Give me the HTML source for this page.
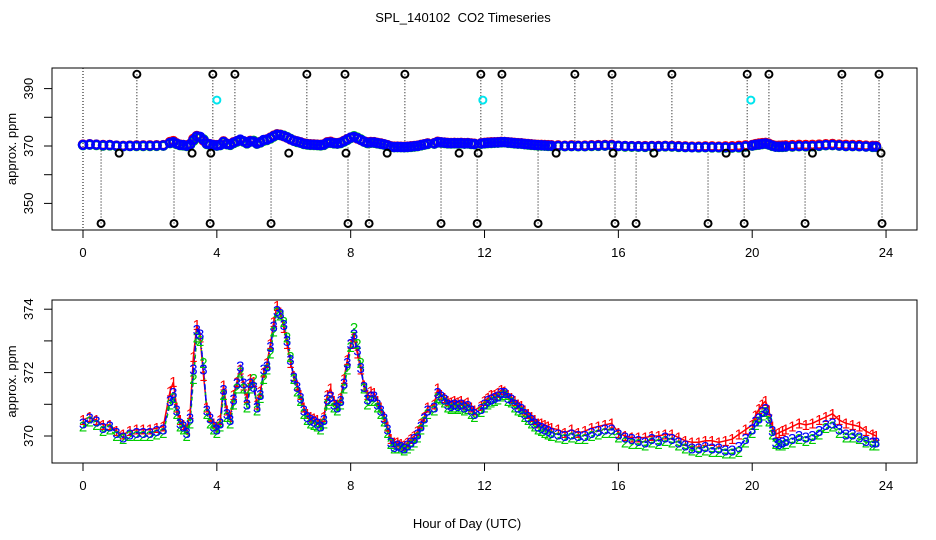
<!DOCTYPE html>
<html><head><meta charset="utf-8"><style>
html,body{margin:0;padding:0;background:#fff}
svg{display:block;font-family:"Liberation Sans",sans-serif}
</style></head><body>
<svg id="chart" width="936" height="540" viewBox="0 0 936 540">
<text x="463" y="22" font-size="13" text-anchor="middle">SPL_140102&#160; CO2 Timeseries</text>
<text x="467" y="528" font-size="13" text-anchor="middle">Hour of Day (UTC)</text>
<g id="topPanel"></g>
<g id="botPanel"></g>
</svg>
<script>
const hours=[0,0.2,0.4,0.6,0.8,1.0,1.2,1.4,1.6,1.8,2.0,2.2,2.4,2.6,2.7,2.8,2.9,3.0,3.1,3.2,3.3,3.4,3.5,3.6,3.7,3.8,3.9,4.0,4.1,4.2,4.3,4.4,4.5,4.6,4.7,4.8,4.9,5.0,5.1,5.2,5.3,5.4,5.5,5.6,5.7,5.8,5.9,6.0,6.1,6.2,6.3,6.4,6.5,6.6,6.7,6.8,6.9,7.0,7.1,7.2,7.3,7.4,7.5,7.6,7.7,7.8,7.9,8.0,8.1,8.2,8.3,8.4,8.5,8.6,8.7,8.8,8.9,9.0,9.1,9.2,9.3,9.4,9.5,9.6,9.7,9.8,9.9,10.0,10.1,10.2,10.3,10.5,10.6,10.7,10.8,10.9,11.0,11.1,11.2,11.3,11.4,11.5,11.6,11.7,11.9,12.0,12.1,12.2,12.3,12.4,12.5,12.6,12.7,12.8,12.9,13.0,13.1,13.2,13.3,13.4,13.5,13.6,13.7,13.8,13.9,14.0,14.2,14.4,14.6,14.8,15.0,15.2,15.4,15.6,15.8,16.0,16.2,16.4,16.6,16.8,17.0,17.2,17.4,17.6,17.8,18.0,18.2,18.4,18.6,18.8,19.0,19.2,19.4,19.6,19.8,20.0,20.1,20.2,20.3,20.4,20.5,20.6,20.7,20.8,20.9,21.0,21.2,21.4,21.6,21.8,22.0,22.2,22.4,22.6,22.8,23.0,23.2,23.4,23.6,23.7];
const series3=[370.4,370.55,370.45,370.25,370.3,370.1,369.95,370.05,370.1,370.1,370.1,370.15,370.2,371.1,371.35,370.8,370.4,370.3,370.1,370.55,372.1,373.35,373.2,372.1,370.8,370.55,370.3,370.2,370.4,371.45,370.7,370.5,371.15,371.65,372.2,371.65,371.0,371.65,371.55,370.9,371.3,372.1,372.2,372.8,373.45,373.95,373.85,373.5,373.0,372.4,371.85,371.55,371.2,370.8,370.6,370.5,370.45,370.4,370.3,370.5,371.15,371.25,371.0,370.9,371.1,371.65,372.3,372.9,373.2,372.7,372.15,371.55,371.15,371.25,371.25,371.0,370.8,370.55,370.2,369.8,369.65,369.7,369.65,369.6,369.7,369.8,369.9,370.05,370.3,370.55,370.8,370.9,371.35,371.25,371.15,371.0,370.95,371.0,370.95,371.0,370.9,370.95,370.8,370.7,370.85,371.0,371.1,371.15,371.2,371.25,371.35,371.35,371.2,371.15,371.0,370.9,370.85,370.7,370.6,370.5,370.4,370.3,370.25,370.2,370.15,370.1,370.05,370.0,370.05,370.0,370.0,370.1,370.15,370.2,370.2,370.05,369.95,369.9,369.85,369.8,369.9,369.85,369.95,369.9,369.8,369.7,369.6,369.6,369.65,369.6,369.6,369.55,369.55,369.65,369.9,370.2,370.45,370.55,370.75,370.85,370.55,370.15,369.8,369.75,369.8,369.85,369.9,370.0,369.95,370.0,370.15,370.35,370.4,370.2,370.05,370.05,369.95,369.85,369.8,369.8];
const series1=[370.5,370.6,370.5,370.35,370.35,370.15,370.05,370.15,370.2,370.2,370.2,370.25,370.3,371.4,371.7,370.9,370.5,370.35,370.2,370.7,372.5,373.5,373.1,371.9,370.9,370.6,370.4,370.3,370.5,371.6,370.8,370.6,371.3,371.7,372.1,371.6,371.2,371.8,371.7,371.0,371.4,372.0,372.3,372.9,373.6,374.1,373.9,373.4,372.9,372.3,371.9,371.6,371.3,370.9,370.7,370.6,370.55,370.5,370.4,370.6,371.3,371.5,371.1,371.0,371.2,371.8,372.4,372.9,373.1,372.6,372.1,371.6,371.3,371.4,371.35,371.1,370.9,370.6,370.3,369.9,369.8,369.8,369.75,369.7,369.8,369.9,370.0,370.15,370.4,370.6,370.9,371.0,371.5,371.3,371.2,371.1,371.05,371.1,371.05,371.1,371.0,371.05,370.9,370.8,370.95,371.1,371.2,371.3,371.3,371.35,371.45,371.4,371.3,371.2,371.1,371.0,370.95,370.8,370.7,370.6,370.5,370.4,370.4,370.35,370.3,370.25,370.2,370.1,370.2,370.1,370.15,370.25,370.3,370.35,370.4,370.1,370.0,369.95,369.95,369.95,370.0,370.0,370.05,370.05,369.95,369.85,369.8,369.8,369.85,369.85,369.8,369.85,369.9,370.05,370.2,370.35,370.65,370.85,371.0,371.1,370.8,370.3,370.05,370.1,370.15,370.2,370.3,370.4,370.35,370.4,370.5,370.6,370.7,370.5,370.4,370.35,370.3,370.15,370.05,370.0];
const series2=[370.3,370.45,370.35,370.15,370.2,370.0,369.9,370.0,370.0,370.0,370.0,370.05,370.1,371.0,371.2,370.7,370.3,370.2,370.0,370.4,371.8,373.1,373.0,372.3,370.7,370.4,370.2,370.1,370.3,371.3,370.6,370.4,371.0,371.5,372.0,371.5,370.9,371.5,371.8,370.8,371.2,371.8,372.1,372.6,373.3,373.9,373.8,373.6,373.1,372.5,371.8,371.4,371.1,370.7,370.5,370.4,370.35,370.3,370.2,370.4,371.0,371.1,370.9,370.8,371.0,371.5,372.1,372.8,373.4,372.9,372.3,371.5,371.0,371.1,371.1,370.9,370.7,370.45,370.1,369.75,369.6,369.6,369.6,369.55,369.6,369.7,369.8,369.95,370.2,370.45,370.7,370.8,371.2,371.15,371.05,370.9,370.85,370.9,370.85,370.9,370.8,370.85,370.7,370.6,370.75,370.9,371.0,371.05,371.1,371.15,371.25,371.3,371.1,371.05,370.9,370.8,370.75,370.6,370.5,370.4,370.3,370.2,370.15,370.1,370.05,370.0,369.95,369.9,369.95,369.9,369.9,370.0,370.05,370.1,370.1,369.95,369.8,369.75,369.75,369.7,369.8,369.75,369.85,369.8,369.7,369.6,369.55,369.5,369.55,369.5,369.5,369.45,369.45,369.5,369.8,370.1,370.35,370.45,370.65,370.75,370.45,370.05,369.75,369.7,369.7,369.75,369.8,369.9,369.85,369.9,370.05,370.25,370.3,370.1,369.95,369.95,369.9,369.8,369.7,369.7];
const highOutlierHours=[1.61,3.88,4.54,6.69,7.83,9.62,11.89,12.52,14.7,15.81,17.6,19.85,20.5,22.68,23.79];
const highOutlierValue=395;
const lowOutlierHours=[0.54,2.72,3.8,5.62,7.92,8.55,10.7,11.78,13.6,15.9,16.53,18.68,19.76,21.58,23.88];
const lowOutlierValue=343;
const midOutlierHours=[1.08,3.26,3.82,6.15,7.86,9.09,11.24,11.81,14.14,15.84,17.06,19.22,19.81,21.8,23.85];
const midOutlierValue=367.5;
const cyanHours=[4.0,11.95,19.96];
const cyanValue=386;
const xTicks=[0,4,8,12,16,20,24];
const topYTicks=[350,360,370,380,390];
const topYLabels=[350,370,390];
const botYTicks=[370,371,372,373,374];
const botYLabels=[370,372,374];

const NS="http://www.w3.org/2000/svg";
function mk(p,tag,attrs){const e=document.createElementNS(NS,tag);for(const k in attrs)e.setAttribute(k,attrs[k]);p.appendChild(e);return e;}
const xs=h=>83+h*33.46;
const yTop=v=>146-(v-370)*2.87;
const yBot=v=>436-(v-370)*31.7;

function frame(g,y0,y1,ys,ticks,labels,name){
  const box=mk(g,'rect',{x:52,y:y0,width:865,height:y1-y0,fill:'none',stroke:'#000','stroke-width':1});
  
  
  mk(g,'line',{x1:xs(0),x2:xs(24),y1:y1,y2:y1,stroke:'#000'});
  xTicks.forEach(t=>{
    mk(g,'line',{x1:xs(t),x2:xs(t),y1:y1,y2:y1+8,stroke:'#000'});
    const tx=mk(g,'text',{x:xs(t),y:y1+27,'font-size':13,'text-anchor':'middle'});
    tx.textContent=t;
    
    
  });
  ticks.forEach(t=>{mk(g,'line',{x1:44,x2:52,y1:ys(t),y2:ys(t),stroke:'#000'});});
  labels.forEach(t=>{
    const tx=mk(g,'text',{x:0,y:0,'font-size':13,'text-anchor':'middle',transform:`translate(33,${ys(t)}) rotate(-90)`});
    tx.textContent=t;
    
    
  });
  const yt=mk(g,'text',{x:0,y:0,'font-size':13,'text-anchor':'middle',transform:`translate(16,${(y0+y1)/2}) rotate(-90)`});
  yt.textContent='approx. ppm';
  
  
}

const topG=document.getElementById('topPanel');
frame(topG,68,230,yTop,topYTicks,topYLabels,'top');
mk(topG,'line',{x1:xs(0),x2:xs(0),y1:68,y2:230,stroke:'#000','stroke-dasharray':'1,2'});
highOutlierHours.forEach(h=>mk(topG,'line',{x1:xs(h),x2:xs(h),y1:yTop(highOutlierValue),y2:yTop(370),stroke:'#000','stroke-dasharray':'1,2'}));
lowOutlierHours.forEach(h=>mk(topG,'line',{x1:xs(h),x2:xs(h),y1:yTop(lowOutlierValue),y2:yTop(370),stroke:'#000','stroke-dasharray':'1,2'}));
const topColors=['#ff0000','#00cc00','#0000ff'];
[series1,series2,series3].forEach((s,si)=>{
  s.forEach((v,i)=>{
    const c=mk(topG,'circle',{cx:xs(hours[i]),cy:yTop(v),r:4,fill:'none',stroke:topColors[si],'stroke-width':2.5});
    
    
  });
});
function outl(hs,v,col,nm){hs.forEach(h=>{
  const c=mk(topG,'circle',{cx:xs(h),cy:yTop(v),r:3.5,fill:'none',stroke:col,'stroke-width':2});
  
  
});}
outl(highOutlierHours,highOutlierValue,'#000','high-outlier');
outl(lowOutlierHours,lowOutlierValue,'#000','low-outlier');
outl(midOutlierHours,midOutlierValue,'#000','mid-outlier');
outl(cyanHours,cyanValue,'#00e5ee','cyan-outlier');

const botG=document.getElementById('botPanel');
frame(botG,300,463,yBot,botYTicks,botYLabels,'bottom');
const botStyles=[['#ff0000','none','1'],['#00cc00','4,3','2'],['#0000ff','6,2,1,2','3']];
[series1,series2,series3].forEach((s,si)=>{
  const d=s.map((v,i)=>(i?'L':'M')+xs(hours[i]).toFixed(1)+','+yBot(v).toFixed(1)).join('');
  const p=mk(botG,'path',{d:d,fill:'none',stroke:botStyles[si][0],'stroke-width':1.5,'stroke-dasharray':botStyles[si][1]});
  
  
});
[series1,series2,series3].forEach((s,si)=>{
  s.forEach((v,i)=>{
    const t=mk(botG,'text',{x:xs(hours[i]),y:yBot(v)+5,'font-size':15,'text-anchor':'middle',fill:botStyles[si][0]});
    t.textContent=botStyles[si][2];
    
    
  });
});
</script>
</body></html>
